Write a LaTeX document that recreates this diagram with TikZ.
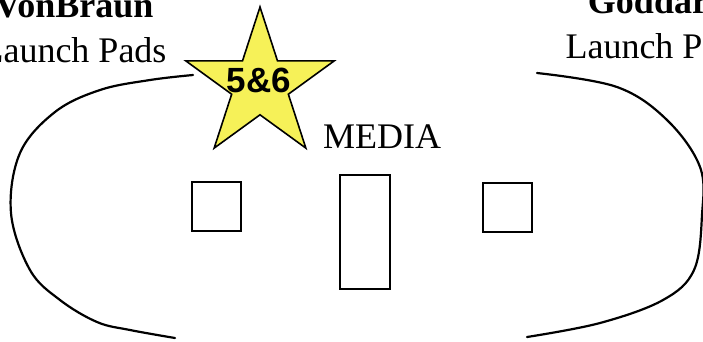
\documentclass[tikz,border=0pt]{standalone}
\usepackage{fontspec}
\setmainfont{Liberation Serif}
\setsansfont{Liberation Sans}
\usetikzlibrary{shapes.geometric}
\definecolor{staryellow}{RGB}{246,241,88}

\begin{document}
\begin{tikzpicture}[x=1pt, y=-1pt, line width=2.2pt,
    pad/.style={draw, inner sep=0pt, minimum width=49pt, minimum height=49pt},
    words/.style={inner sep=0pt, font=\fontsize{36}{45}\selectfont}]
  \useasboundingbox (0,0) rectangle (703,341);

  % the two launch areas
  \node[words, anchor=base] (vbName) at (74,17) {\textbf{VonBraun}};
  \node[words, anchor=base] (vbPads) at (74,62) {Launch Pads};
  \node[words, anchor=base] (gdName) at (658,13) {\textbf{Goddard}};
  \node[words, anchor=base] (gdPads) at (658,58) {Launch Pads};

  % left and right arcs
  \draw[line cap=round] plot[smooth, tension=0.6] coordinates {
    (193,75) (150,80) (100,90) (55,112) (20,153) (11,213) (30,270)
    (60,300) (97,322) (130,330) (175,338)};
  \draw[line cap=round] plot[smooth, tension=0.6] coordinates {
    (537,73) (617,87) (667,120) (700,167) (702,215) (694,270)
    (663,300) (600,323) (527,337)};

  % star for pads 5 and 6
  \node[star, star points=5, star point ratio=2.618, draw, fill=staryellow,
        line width=1.6pt, minimum size=156pt, inner sep=0pt] (padStar) at (260,85) {};
  \node[inner sep=0pt, font=\sffamily\bfseries\fontsize{35}{40}\selectfont,
        anchor=base] (padNum) at (259,92) {5\&6};
  \node[words, anchor=base west] (media) at (322,148) {MEDIA};

  % stands
  \node[pad] (boxL) at (216.5,206.5) {};
  \node[pad, minimum width=50pt, minimum height=114pt] (boxM) at (365,232) {};
  \node[pad] (boxR) at (507.5,207.5) {};
\end{tikzpicture}
\end{document}
